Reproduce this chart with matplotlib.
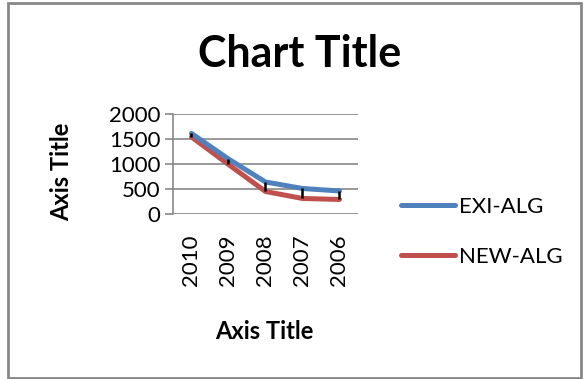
import numpy as np
import matplotlib
matplotlib.use('Agg')
import matplotlib.pyplot as plt
from matplotlib.patches import Rectangle

plt.rcParams['font.family'] = ['Lato', 'DejaVu Sans']

# data
years = ['2010', '2009', '2008', '2007', '2006']
exi_alg = [1610, 1100, 640, 510, 460]
new_alg = [1540, 990, 450, 310, 290]
y_ticks = [0, 500, 1000, 1500, 2000]

BLUE = '#4F81BD'
RED = '#C0504D'
GRID = '#878787'


def main():
    fig = plt.figure(figsize=(5.85, 3.79), dpi=100)
    ax = fig.add_axes([0.2957, 0.4354, 0.3162, 0.2639])

    x = np.arange(len(years))

    # gridlines
    for t in y_ticks:
        ax.axhline(t, color=GRID, lw=1.2, zorder=1)

    # high-low lines between the two series
    ax.vlines(x, new_alg, exi_alg, color='black', lw=1.8, zorder=4)

    ax.plot(x, exi_alg, color=BLUE, lw=3.6, solid_capstyle='round',
            solid_joinstyle='round', label='EXI-ALG', zorder=3)
    ax.plot(x, new_alg, color=RED, lw=3.6, solid_capstyle='round',
            solid_joinstyle='round', label='NEW-ALG', zorder=2)

    ax.set_xlim(-0.5, len(years) - 0.5)
    ax.set_ylim(0, 2000)
    ax.set_yticks(y_ticks)
    ax.set_xticks(x)
    ax.set_xticklabels(years, rotation=90, fontsize=16)
    ax.tick_params(axis='y', labelsize=16, length=6, width=1.2,
                   color=GRID, pad=3)
    ax.tick_params(axis='x', length=0, pad=15)

    for side in ['top', 'right', 'bottom']:
        ax.spines[side].set_visible(False)
    ax.spines['left'].set_color(GRID)
    ax.spines['left'].set_linewidth(1.2)

    # axis titles
    fig.text(0.105, 0.547, 'Axis Title', fontsize=17, fontweight='bold',
             rotation=90, ha='center', va='center')
    fig.text(0.452, 0.125, 'Axis Title', fontsize=17, fontweight='bold',
             ha='center', va='center')

    fig.text(0.512, 0.858, 'Chart Title', fontsize=31, fontweight='bold',
             ha='center', va='center')

    leg = fig.legend(loc='center left', bbox_to_anchor=(0.652, 0.389),
                     frameon=False, fontsize=16, handlelength=2.4,
                     labelspacing=1.35, handletextpad=0.2)
    for line in leg.get_lines():
        line.set_linewidth(3.6)

    # outer chart border
    fig.patches.append(Rectangle((0.014, 0.003), 0.98, 0.99,
                                 transform=fig.transFigure, fill=False,
                                 edgecolor=GRID, lw=2))

    fig.savefig('out.png', dpi=100)


if __name__ == "__main__":
    main()
